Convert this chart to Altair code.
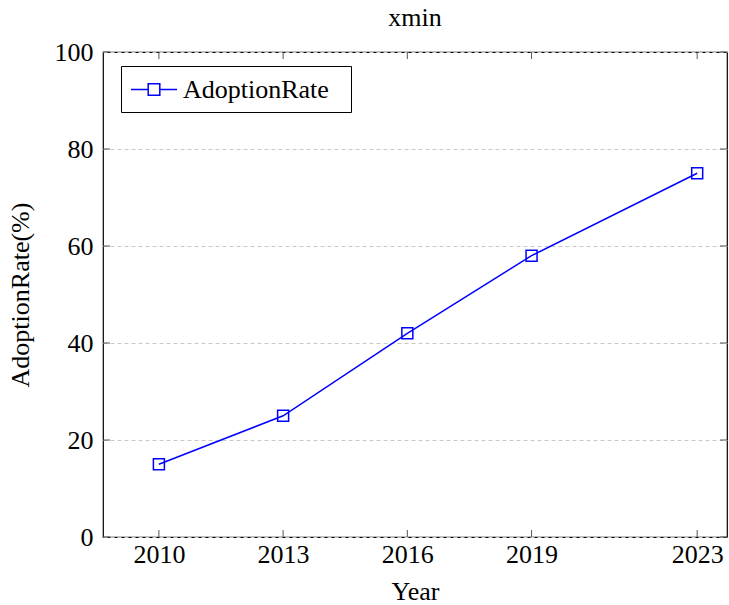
import altair as alt
import pandas as pd

years = [2010, 2013, 2016, 2019, 2023]
rates = [15, 25, 42, 58, 75]
series = ["AdoptionRate"] * len(years)
y_ticks = [0, 20, 40, 60, 80, 100]
x_ticks = years

df = pd.DataFrame({"Year": years, "Rate": rates, "Series": series})
xt = pd.DataFrame({"t": x_ticks})
yt = pd.DataFrame({"t": y_ticks})

FONT = "Liberation Serif"
BLUE = "#0000ff"
W, H = 624, 485
FS = 26

xscale = alt.Scale(domain=[2008.65, 2023.72], nice=False, zero=False)
yscale = alt.Scale(domain=[0, 100], nice=False)

xaxis = alt.Axis(values=x_ticks, format="d", title="Year", ticks=False, grid=False,
                 domain=False, labelPadding=4, titlePadding=11)
yaxis = alt.Axis(values=y_ticks, title="AdoptionRate(%)", ticks=False, grid=True,
                 gridDash=[4, 3], gridColor="#c8c8c8", gridWidth=1, domain=False,
                 labelPadding=10, titlePadding=21)

# legend glyph: line with an open square, shifted right inside a 27px layout box
legend_path = ("M-1,0L0.274,0M1.134,0L2.407,0"
               "M0.274,-0.43L1.134,-0.43L1.134,0.43L0.274,0.43Z")

line = alt.Chart(df).mark_line(color=BLUE, strokeWidth=1.5).encode(
    x=alt.X("Year:Q", scale=xscale, axis=xaxis),
    y=alt.Y("Rate:Q", scale=yscale, axis=yaxis),
)

pts = alt.Chart(df).mark_point(shape="square", size=121, filled=False, strokeWidth=1.5,
                               opacity=1).encode(
    x=alt.X("Year:Q", scale=xscale),
    y=alt.Y("Rate:Q", scale=yscale),
    color=alt.Color("Series:N", scale=alt.Scale(range=[BLUE]),
                    legend=alt.Legend(title=None, orient="none", legendX=18, legendY=14,
                                      symbolType=legend_path, symbolSize=729,
                                      symbolStrokeWidth=1.5, symbolFillColor="transparent",
                                      symbolStrokeColor=BLUE, symbolOpacity=1,
                                      labelFont=FONT, labelFontSize=FS, labelColor="black",
                                      labelExpr="datum.label + '\u00a0\u00a0\u200b'",
                                      labelLimit=400,
                                      strokeColor="black", padding=9, fillColor="white",
                                      labelOffset=24, rowPadding=0)),
)

tick_len = 7
xticks_bot = alt.Chart(xt).mark_rule(color="#555", strokeWidth=1).encode(
    x=alt.X("t:Q", scale=xscale), y=alt.value(H), y2=alt.value(H - tick_len))
xticks_top = alt.Chart(xt).mark_rule(color="#555", strokeWidth=1).encode(
    x=alt.X("t:Q", scale=xscale), y=alt.value(0), y2=alt.value(tick_len))
yticks_left = alt.Chart(yt).mark_rule(color="#555", strokeWidth=1).encode(
    y=alt.Y("t:Q", scale=yscale), x=alt.value(0), x2=alt.value(tick_len))
yticks_right = alt.Chart(yt).mark_rule(color="#555", strokeWidth=1).encode(
    y=alt.Y("t:Q", scale=yscale), x=alt.value(W), x2=alt.value(W - tick_len))

chart = alt.layer(xticks_bot, xticks_top, yticks_left, yticks_right, line, pts).properties(
    width=W, height=H,
    background="white",
    title=alt.TitleParams("xmin", font=FONT, fontSize=FS, fontWeight="normal", color="black", offset=8),
    autosize=alt.AutoSizeParams(type="none"),
    padding={"left": 103, "top": 52, "right": 2, "bottom": 68},
).configure_view(stroke="black", strokeWidth=1.2).configure_axis(
    labelFont=FONT, labelFontSize=FS, labelColor="black",
    titleFont=FONT, titleFontSize=FS, titleFontWeight="normal", titleColor="black",
)

chart.save("out.html", embed_options={"renderer": "svg", "actions": False})
